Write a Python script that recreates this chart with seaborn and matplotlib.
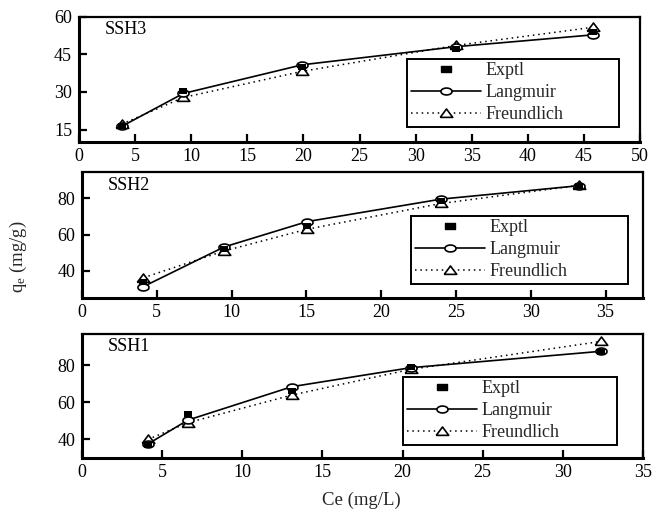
import numpy as np
import pandas as pd
import matplotlib
matplotlib.use("Agg")
import matplotlib.pyplot as plt
from matplotlib.lines import Line2D
import seaborn as sns

# Adsorption isotherm data: equilibrium concentration Ce (mg/L) and uptake qe (mg/g)
ssh3_ce = [3.8, 9.3, 19.9, 33.6, 45.8]
ssh3_exptl = [16.5, 30.3, 39.8, 47.0, 54.0]
ssh3_langmuir = [16.3, 29.4, 40.8, 48.0, 52.7]
ssh3_freundlich = [17.2, 27.8, 38.2, 48.5, 55.7]

ssh2_ce = [4.1, 9.5, 15.05, 24.0, 33.2]
ssh2_exptl = [34.0, 52.0, 64.9, 78.5, 87.0]
ssh2_langmuir = [31.3, 53.2, 67.2, 79.6, 87.0]
ssh2_freundlich = [36.2, 51.0, 63.0, 77.2, 87.2]

ssh1_ce = [4.1, 6.6, 13.1, 20.5, 32.35]
ssh1_exptl = [36.8, 53.5, 66.0, 78.9, 87.3]
ssh1_langmuir = [37.5, 50.4, 68.4, 78.6, 87.4]
ssh1_freundlich = [40.0, 49.0, 63.9, 77.7, 92.7]

panel_names = ["SSH3", "SSH2", "SSH1"]
series_names = ["Exptl", "Langmuir", "Freundlich"]
x_ticks = [[0, 5, 10, 15, 20, 25, 30, 35, 40, 45, 50],
           [0, 5, 10, 15, 20, 25, 30, 35],
           [0, 5, 10, 15, 20, 25, 30, 35]]
y_ticks = [[15, 30, 45, 60], [40, 60, 80], [40, 60, 80]]

sns.set_theme(style="white")
plt.rcParams["font.family"] = ["Liberation Serif", "DejaVu Serif"]
plt.rcParams["mathtext.fontset"] = "custom"
plt.rcParams["mathtext.rm"] = "Liberation Serif"
plt.rcParams["mathtext.it"] = "Liberation Serif:italic"

# Marker shapes: flat filled rectangle, flattened ellipse, low triangle
t = np.linspace(0, 2 * np.pi, 40)
ellipse = list(zip(np.cos(t), 0.62 * np.sin(t)))
rect = [(-1, -0.72), (1, -0.72), (1, 0.72), (-1, 0.72), (-1, -0.72)]
tri = [(-1, -0.62), (1, -0.62), (0, 0.72), (-1, -0.62)]

fig = plt.figure(figsize=(6.52, 5.13), dpi=100)
positions = [
    [79 / 652, 1 - 141.5 / 513, 561 / 652, 125 / 513],
    [82 / 652, 1 - 297.5 / 513, 561 / 652, 125 / 513],
    [82 / 652, 1 - 457.5 / 513, 561 / 652, 124 / 513],
]
xlims = [(0, 50), (0, 37.5), (0, 35)]
ylims = [(10.3, 60), (25.3, 94.3), (30.3, 97)]
legend_boxes = [(0.585, 0.126, 0.378, 0.538),
                (0.587, 0.116, 0.386, 0.538),
                (0.572, 0.133, 0.382, 0.519)]

datasets = [
    (ssh3_ce, ssh3_exptl, ssh3_langmuir, ssh3_freundlich),
    (ssh2_ce, ssh2_exptl, ssh2_langmuir, ssh2_freundlich),
    (ssh1_ce, ssh1_exptl, ssh1_langmuir, ssh1_freundlich),
]

fs = 13
for i, (ce, ex, la, fr) in enumerate(datasets):
    ax = fig.add_axes(positions[i])
    df = pd.DataFrame({"Ce": ce, "Exptl": ex, "Langmuir": la, "Freundlich": fr})

    sns.lineplot(data=df, x="Ce", y="Freundlich", ax=ax, color="black",
                 linestyle=(0, (1, 2.5)), linewidth=1.1, marker=tri,
                 markersize=9, markerfacecolor="white",
                 markeredgecolor="black", markeredgewidth=1.2, zorder=3)
    sns.lineplot(data=df, x="Ce", y="Langmuir", ax=ax, color="black",
                 linestyle="-", linewidth=1.2, marker=ellipse,
                 markersize=8, markerfacecolor="white",
                 markeredgecolor="black", markeredgewidth=1.2, zorder=4)
    sns.scatterplot(data=df, x="Ce", y="Exptl", ax=ax, color="black",
                    marker=rect, s=34, linewidth=0, zorder=5)

    ax.set_xlim(*xlims[i])
    ax.set_ylim(*ylims[i])
    ax.set_xticks(x_ticks[i])
    ax.set_yticks(y_ticks[i])
    ax.set_xlabel("")
    ax.set_ylabel("")
    ax.tick_params(axis="both", which="major", direction="in", length=5.5,
                   width=1.6, color="black", labelsize=fs, pad=5,
                   labelcolor="black", bottom=True, left=True,
                   top=False, right=False)
    for side, sp in ax.spines.items():
        sp.set_color("black")
        sp.set_linewidth(2.2 if side in ("left", "bottom") else 1.6)

    ax.text(0.046, 0.965, panel_names[i], transform=ax.transAxes,
            ha="left", va="top", fontsize=fs, color="black")

    handles = [
        Line2D([], [], linestyle="none", marker=rect, markersize=6.5,
               color="black"),
        Line2D([], [], color="black", linestyle="-", linewidth=1.2,
               marker=ellipse, markersize=8, markerfacecolor="white",
               markeredgecolor="black", markeredgewidth=1.2),
        Line2D([], [], color="black", linestyle=(0, (1, 2.5)),
               linewidth=1.1, marker=tri, markersize=9,
               markerfacecolor="white", markeredgecolor="black",
               markeredgewidth=1.2),
    ]
    leg = ax.legend(handles, series_names, loc="upper left",
                    bbox_to_anchor=legend_boxes[i], mode="expand",
                    fontsize=fs, frameon=True, fancybox=False,
                    edgecolor="black", framealpha=1, borderpad=0.2,
                    labelspacing=0.28, handlelength=3.9, handletextpad=0.25,
                    borderaxespad=0.0)
    leg.get_frame().set_linewidth(1.4)

fig.text(0.028, 0.50, "q$_\\mathrm{e}$ (mg/g)", rotation=90, ha="center",
         va="center", fontsize=13.5)
fig.text(0.555, 0.025, "Ce (mg/L)", ha="center", va="center", fontsize=13.5)

fig.savefig("out.png", dpi=100)
